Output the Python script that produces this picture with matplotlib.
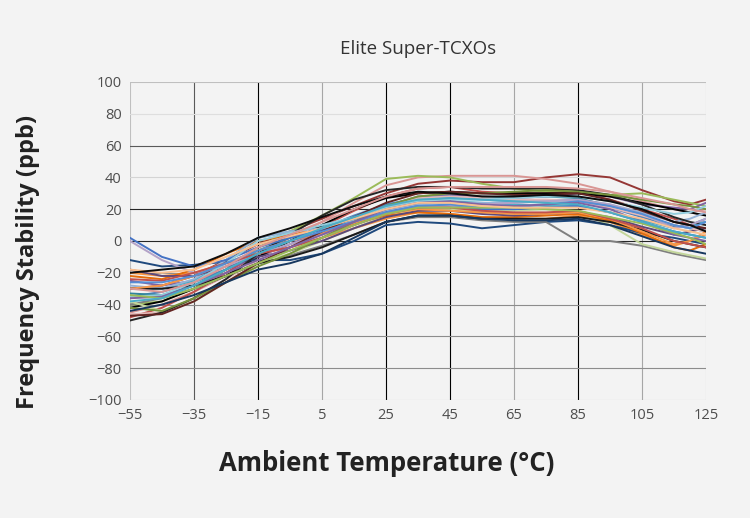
import matplotlib
matplotlib.use("Agg")
import matplotlib.pyplot as plt

# temperature points (deg C) shared by every unit
temps = [-55, -45, -35, -25, -15, -5, 5, 15, 25, 35, 45, 55, 65, 75, 85, 95, 105, 115, 120, 125]

# frequency deviation (ppb) of each unit
unit_colors = [
    "#953735", "#D99694", "#9BBB59", "#C0504D", "#8064A2", "#4F81BD", "#4BACC6",
    "#F79646", "#000000", "#1F497D", "#7F7F7F", "#C3D69B", "#E46C0A", "#95B3D7",
    "#31859C", "#5F497A", "#E6B9B8", "#1a1a1a", "#262626", "#4472C4", "#B3A2C7",
    "#F79646", "#77933C", "#93CDDD", "#632523", "#C0504D", "#17375E", "#558ED5",
    "#8064A2", "#9BBB59", "#FAC090", "#0d0d0d", "#4BACC6", "#D99694",
]
units = [
    [-30, -28, -22, -12, -2, 6, 14, 22, 30, 36, 38, 37, 37, 40, 42, 40, 32, 25, 23, 26],
    [-45, -40, -32, -22, -8, 2, 12, 24, 35, 40, 41, 41, 41, 39, 36, 31, 25, 20, 18, 20],
    [-40, -38, -30, -18, -4, 6, 16, 27, 39, 41, 40, 36, 33, 31, 30, 29, 30, 26, 24, 22],
    [-48, -42, -32, -20, -8, 0, 9, 19, 28, 33, 34, 31, 30, 30, 31, 26, 20, 14, 10, 12],
    [-25, -28, -25, -18, -10, -2, 6, 14, 22, 28, 29, 28, 27, 28, 30, 28, 23, 21, 20, 24],
    [-35, -32, -26, -18, -8, 0, 8, 16, 23, 27, 28, 26, 25, 25, 26, 21, 15, 9, 10, 14],
    [-30, -30, -25, -12, 2, 6, 9, 14, 20, 24, 25, 24, 23, 22, 22, 18, 13, 8, 10, 12],
    [-20, -22, -20, -14, -8, -4, 2, 8, 14, 18, 17, 15, 14, 14, 16, 12, 4, -3, 0, 4],
    [-42, -38, -30, -22, -10, 0, 10, 20, 27, 30, 31, 30, 30, 30, 30, 28, 24, 20, 18, 16],
    [-12, -16, -15, -13, -12, -12, -8, 0, 10, 12, 11, 8, 10, 12, 13, 10, 5, 2, 0, -2],
    [-40, -36, -30, -22, -14, -9, -3, 4, 12, 15, 15, 13, 12, 12, 0, 0, -3, -8, -10, -12],
    [-38, -44, -38, -26, -14, -8, 0, 8, 16, 20, 20, 19, 19, 20, 18, 10, -2, -7, -9, -11],
    [-22, -24, -18, -8, 0, 4, 7, 11, 16, 18, 17, 15, 15, 16, 17, 13, 5, -4, -6, -2],
    [-28, -30, -24, -12, 2, 6, 8, 13, 19, 23, 24, 24, 24, 25, 26, 23, 18, 12, 14, 18],
    [-33, -34, -28, -18, -6, 2, 8, 14, 20, 25, 27, 27, 28, 28, 27, 22, 16, 10, 8, 6],
    [-18, -22, -22, -16, -10, -6, 0, 8, 15, 19, 19, 17, 16, 17, 18, 15, 9, 4, 6, 8],
    [-46, -45, -36, -24, -12, -4, 4, 12, 21, 27, 28, 27, 26, 26, 25, 21, 16, 10, 8, 6],
    [-30, -30, -28, -22, -14, -10, -4, 4, 12, 16, 16, 14, 14, 14, 15, 12, 7, 0, -2, -4],
    [-50, -45, -36, -24, -8, 4, 16, 26, 32, 34, 34, 33, 33, 33, 32, 29, 23, 15, 12, 10],
    [2, -10, -16, -12, -4, 2, 7, 12, 18, 22, 22, 20, 20, 21, 22, 18, 12, 6, 4, 2],
    [0, -12, -20, -16, -8, -2, 4, 10, 17, 21, 22, 23, 24, 25, 26, 23, 17, 8, 10, 14],
    [-30, -28, -22, -14, -6, 0, 5, 11, 17, 20, 19, 18, 17, 17, 18, 14, 6, -2, 0, 6],
    [-42, -44, -36, -26, -16, -8, 2, 12, 22, 28, 30, 30, 31, 32, 31, 29, 26, 23, 22, 20],
    [-35, -34, -26, -14, 0, 5, 10, 15, 21, 25, 26, 26, 27, 28, 28, 25, 21, 17, 18, 22],
    [-47, -46, -38, -26, -14, -4, 6, 15, 24, 30, 31, 30, 29, 29, 30, 26, 19, 12, 10, 8],
    [-24, -25, -20, -14, -8, -4, 2, 10, 17, 21, 21, 19, 18, 18, 19, 14, 8, 0, -2, -4],
    [-44, -40, -34, -26, -18, -14, -8, 2, 12, 16, 16, 14, 13, 13, 14, 10, 3, -4, -6, -8],
    [-26, -26, -22, -14, -6, 0, 6, 12, 18, 22, 23, 21, 21, 23, 25, 22, 17, 10, 8, 12],
    [-36, -35, -28, -20, -12, -4, 4, 12, 20, 24, 25, 23, 22, 23, 24, 20, 12, 4, 2, 0],
    [-34, -36, -30, -22, -14, -6, 2, 10, 17, 21, 21, 21, 21, 20, 19, 15, 11, 5, 2, -2],
    [-18, -20, -18, -10, -2, 3, 8, 14, 20, 24, 24, 22, 21, 21, 21, 18, 14, 8, 6, 4],
    [-20, -18, -16, -8, 2, 8, 15, 22, 28, 31, 30, 28, 28, 29, 28, 25, 20, 12, 10, 6],
    [-38, -36, -28, -18, -8, 0, 8, 15, 22, 26, 27, 26, 25, 24, 23, 18, 12, 6, 4, 2],
    [-30, -32, -26, -16, -4, 4, 12, 20, 28, 33, 34, 34, 34, 34, 33, 31, 27, 23, 20, 18],
]

x_ticks = [-55, -35, -15, 5, 25, 45, 65, 85, 105, 125]
x_grid_colors = ["#bfbfbf", "#595959", "#000000", "#a6a6a6", "#000000",
                 "#000000", "#a6a6a6", "#000000", "#a6a6a6", "#bfbfbf"]
y_ticks = [-100, -80, -60, -40, -20, 0, 20, 40, 60, 80, 100]
y_grid_colors = ["#bfbfbf", "#8c8c8c", "#8c8c8c", "#8c8c8c", "#8c8c8c", "#262626",
                 "#262626", "#d4d4d4", "#595959", "#dedede", "#bfbfbf"]

bg = "#f3f3f3"

fig = plt.figure(figsize=(7.5, 5.18), dpi=100, facecolor=bg)
ax = fig.add_axes([0.1733, 0.2278, 0.768, 0.6139], facecolor=bg)

# grid lines drawn by hand because each one has its own shade
for xv, c in zip(x_ticks, x_grid_colors):
    ax.axvline(xv, color=c, lw=0.8, zorder=1)
for yv, c in zip(y_ticks, y_grid_colors):
    ax.axhline(yv, color=c, lw=0.8, zorder=1)

for vals, c in zip(units, unit_colors):
    ax.plot(temps, vals, color=c, lw=1.4, zorder=2, solid_joinstyle="round")

ax.set_xlim(-55, 125)
ax.set_ylim(-100, 100)
ax.set_xticks(x_ticks)
ax.set_yticks(y_ticks)
for s in ax.spines.values():
    s.set_visible(False)
ax.tick_params(length=0, labelsize=10.5, labelcolor="#4d4d4d", pad=6)
for lab in ax.get_xticklabels() + ax.get_yticklabels():
    lab.set_fontfamily("Open Sans")

ax.set_title("Elite Super-TCXOs", fontsize=13.5, color="#333333",
             fontfamily="Open Sans", pad=20)

# axis titles sit off-centre in the original, so place them on the figure
fig.text(0.516, 0.106, "Ambient Temperature (°C)", fontsize=18.5, fontweight="bold",
         color="#222222", fontfamily="Open Sans", ha="center", va="center")
fig.text(0.037, 0.494, "Frequency Stability (ppb)", fontsize=17, fontweight="bold",
         color="#222222", fontfamily="Open Sans", ha="center", va="center",
         rotation=90)

fig.savefig("out.png", dpi=100, facecolor=bg)
